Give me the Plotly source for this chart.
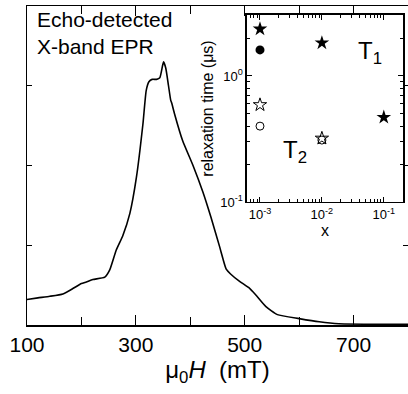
import plotly.graph_objects as go

# Main EPR spectrum
field_mT = [100, 120, 142, 166, 185, 200, 209, 221, 243, 252, 264, 276, 289, 301, 313, 319, 324, 330,
            338, 344, 349, 351, 355, 360, 364, 366, 371, 386, 405, 423, 438, 454, 460, 466, 474, 490,
            509, 520, 539, 560, 600, 637, 673, 720, 800]
intensity = [0.32, 0.34, 0.36, 0.39, 0.46, 0.52, 0.54, 0.57, 0.60, 0.69, 0.94, 1.12, 1.40, 1.85, 2.52,
             2.94, 3.05, 3.08, 3.08, 3.10, 3.25, 3.30, 3.22, 3.00, 2.82, 2.78, 2.65, 2.31, 2.00, 1.67,
             1.35, 0.98, 0.83, 0.70, 0.64, 0.55, 0.46, 0.38, 0.23, 0.13, 0.08, 0.04, 0.015, 0.01, 0.01]

# Inset: relaxation times
x_T1_star = [1e-3, 1e-2, 1e-1]
T1_star = [2.36, 1.83, 0.47]
x_T1_circ = [1e-3]
T1_circ = [1.61]
x_T2_star = [1e-3, 1e-2]
T2_star = [0.59, 0.32]
x_T2_circ = [1e-3, 1e-2]
T2_circ = [0.40, 0.31]

main_xticks = [100, 300, 500, 700]
main_minor = [200, 400, 600]
inset_xticks = [1e-3, 1e-2, 1e-1]
inset_xtext = ["10<sup>-3</sup>", "10<sup>-2</sup>", "10<sup>-1</sup>"]
inset_yticks = [0.1, 1]
inset_ytext = ["10<sup>-1</sup>", "10<sup>0</sup>"]

FONT = "Liberation Sans, Arial, sans-serif"

fig = go.Figure()
fig.add_trace(go.Scatter(x=field_mT, y=intensity, mode="lines",
                         line=dict(color="black", width=1.6, shape="spline", smoothing=0.5),
                         xaxis="x", yaxis="y", showlegend=False, hoverinfo="skip"))

fig.add_trace(go.Scatter(x=x_T1_star, y=T1_star, mode="markers",
                         marker=dict(symbol="star", size=11, color="black"),
                         xaxis="x2", yaxis="y2", showlegend=False))
fig.add_trace(go.Scatter(x=x_T1_circ, y=T1_circ, mode="markers",
                         marker=dict(symbol="circle", size=9, color="black"),
                         xaxis="x2", yaxis="y2", showlegend=False))
fig.add_trace(go.Scatter(x=x_T2_circ, y=T2_circ, mode="markers",
                         marker=dict(symbol="circle-open", size=8, color="black", line=dict(width=1)),
                         xaxis="x2", yaxis="y2", showlegend=False))
fig.add_trace(go.Scatter(x=x_T2_star, y=T2_star, mode="markers",
                         marker=dict(symbol="star-open", size=10, color="black", line=dict(width=1)),
                         xaxis="x2", yaxis="y2", showlegend=False))

axis_common = dict(showgrid=False, zeroline=False, showline=True, linecolor="black", linewidth=1.5,
                   tickcolor="black", automargin=False)

fig.update_layout(
    width=408, height=394,
    margin=dict(l=27, r=0, t=6, b=69),
    plot_bgcolor="white", paper_bgcolor="white",
    font=dict(family=FONT, color="black"),
    xaxis=dict(**axis_common, range=[100, 800], domain=[0, 1],
               tickvals=main_xticks, ticks="inside", ticklen=10, tickwidth=1.2,
               mirror="ticks",
               minor=dict(tickvals=main_minor, ticks="inside", ticklen=8, tickwidth=1.2, tickcolor="black"),
               tickfont=dict(size=21, family=FONT),
               title=dict(text="μ<sub>0</sub><i>H</i>  (mT)", font=dict(size=24, family=FONT), standoff=6)),
    yaxis=dict(**axis_common, range=[0, 4], domain=[0, 1],
               tickvals=[1, 2, 3], ticks="inside", ticklen=5, tickwidth=1,
               showticklabels=False, mirror="ticks"),
    xaxis2=dict(**axis_common, type="log", range=[-3.21, -0.69], domain=[0.5774, 0.9869],
                anchor="y2", tickvals=inset_xticks, ticktext=inset_xtext,
                ticks="inside", ticklen=5, tickwidth=1, mirror="ticks",
                minor=dict(ticks="inside", ticklen=3, dtick="D1", tickcolor="black"),
                tickfont=dict(size=13, family=FONT),
                title=dict(text="x", font=dict(size=16, family=FONT), standoff=2)),
    yaxis2=dict(**axis_common, type="log", range=[-1, 0.484], domain=[0.3856, 0.9718],
                anchor="x2", tickvals=inset_yticks, ticktext=inset_ytext,
                ticks="inside", ticklen=5, tickwidth=1, mirror="ticks",
                minor=dict(ticks="inside", ticklen=3, dtick="D1", tickcolor="black"),
                tickfont=dict(size=13, family=FONT),
                title=dict(text="relaxation time (μs)", font=dict(size=16, family=FONT), standoff=2)),
)

fig.add_annotation(text="Echo-detected", xref="paper", yref="paper", x=0.02, y=1.0,
                   xanchor="left", yanchor="top", showarrow=False, font=dict(size=21, family=FONT))
fig.add_annotation(text="X-band EPR", xref="paper", yref="paper", x=0.02, y=0.915,
                   xanchor="left", yanchor="top", showarrow=False, font=dict(size=21, family=FONT))
fig.add_annotation(text="T<sub>1</sub>", xref="x2 domain", yref="y2 domain", x=0.70, y=0.80,
                   xanchor="left", yanchor="middle", showarrow=False, font=dict(size=24, family=FONT))
fig.add_annotation(text="T<sub>2</sub>", xref="x2 domain", yref="y2 domain", x=0.22, y=0.27,
                   xanchor="left", yanchor="middle", showarrow=False, font=dict(size=24, family=FONT))

fig.write_html("out.html", config={"displayModeBar": False, "staticPlot": True},
               post_script="document.body.style.margin='0';document.body.style.overflow='hidden';")
